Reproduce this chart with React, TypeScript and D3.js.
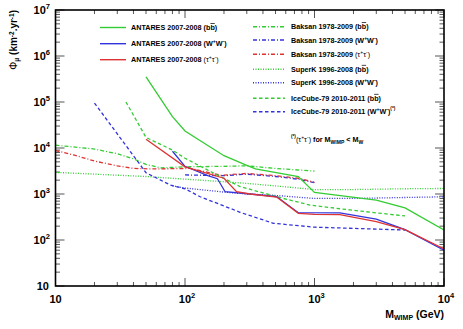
import React from "react";
import * as d3 from "d3";

const W = 463, H = 329;
const FONT = "'Liberation Sans', Arial, Helvetica, sans-serif";

// ---- data ----
const antaresBBMass = [50, 80, 100, 200, 300, 350, 750, 1000, 3000, 5000, 10000];
const antaresBBFlux = [3.5e5, 4.8e4, 2.35e4, 6.8e3, 4.2e3, 3.5e3, 2.4e3, 1.08e3, 740, 500, 165];

const antaresWWMass = [80, 100, 150, 178, 204, 318, 510, 750, 1570, 3000, 5000, 10000];
const antaresWWFlux = [8.5e3, 4.0e3, 2.5e3, 2.15e3, 1.12e3, 1.0e3, 880, 392, 390, 285, 168, 60];

const antaresTTMass = [50, 100, 200, 250, 318, 510, 750, 1000, 1570, 3000, 5000, 10000];
const antaresTTFlux = [1.55e4, 3.9e3, 2.2e3, 1.12e3, 1.0e3, 860, 380, 360, 355, 250, 168, 64];

const baksanBBMass = [10, 20, 30, 40, 50, 65, 100, 200, 300, 500, 1000];
const baksanBBFlux = [1.15e4, 9.5e3, 7.5e3, 5.8e3, 4.4e3, 3.7e3, 3.9e3, 4.0e3, 4.1e3, 3.6e3, 3.15e3];

const baksanWWMass = [100, 200, 300, 500, 750, 1000];
const baksanWWFlux = [2.6e3, 2.5e3, 2.7e3, 2.4e3, 2.1e3, 1.76e3];

const baksanTTMass = [10, 14, 20, 30, 40, 55, 110, 190, 300, 500, 750, 1000];
const baksanTTFlux = [8.8e3, 7.0e3, 5.2e3, 4.1e3, 3.6e3, 3.5e3, 3.6e3, 2.55e3, 2.8e3, 2.5e3, 2.2e3, 1.8e3];

const superkBBMass = [10, 20, 50, 100, 200, 300, 500, 1000, 2000, 5000, 10000];
const superkBBFlux = [2.95e3, 2.7e3, 2.4e3, 2.1e3, 1.85e3, 1.7e3, 1.5e3, 1.25e3, 1.25e3, 1.3e3, 1.32e3];

const superkWWMass = [80, 100, 200, 300, 500, 1000, 2000, 5000, 10000];
const superkWWFlux = [1.5e3, 1.35e3, 1.1e3, 1.0e3, 930, 800, 800, 840, 870];

const icecubeBBMass = [35, 50, 80, 100, 150, 266, 575, 923, 1880, 5000];
const icecubeBBFlux = [1.0e5, 1.7e4, 9e3, 6e3, 3.3e3, 1.45e3, 800, 575, 450, 333];

const icecubeWWMass = [20, 50, 77, 100, 131, 222, 266, 481, 1000, 1880, 5000];
const icecubeWWFlux = [9.5e4, 2.9e3, 1.57e3, 1.3e3, 870, 490, 400, 231, 190, 180, 165];

const xTickValues = [10, 100, 1000, 10000];
const xTickExp = ["", "2", "3", "4"];
const yTickValues = [10, 100, 1000, 1e4, 1e5, 1e6, 1e7];
const yTickExp = ["", "2", "3", "4", "5", "6", "7"];

const GREEN = "#33cc33";
const BLUE = "#3333dd";
const RED = "#dd3333";
const SOLID = "none";
const DASH = "3.5,2.5";
const DOT = "1,1.5";
const DASHDOT = "4,2,1,2";

type Series = { mass: number[]; flux: number[]; color: string; dash: string };

const plotSeries: Series[] = [
  { mass: superkBBMass, flux: superkBBFlux, color: GREEN, dash: DOT },
  { mass: superkWWMass, flux: superkWWFlux, color: BLUE, dash: DOT },
  { mass: baksanBBMass, flux: baksanBBFlux, color: GREEN, dash: DASHDOT },
  { mass: baksanWWMass, flux: baksanWWFlux, color: BLUE, dash: DASHDOT },
  { mass: baksanTTMass, flux: baksanTTFlux, color: RED, dash: DASHDOT },
  { mass: icecubeBBMass, flux: icecubeBBFlux, color: GREEN, dash: DASH },
  { mass: icecubeWWMass, flux: icecubeWWFlux, color: BLUE, dash: DASH },
  { mass: antaresBBMass, flux: antaresBBFlux, color: GREEN, dash: SOLID },
  { mass: antaresWWMass, flux: antaresWWFlux, color: BLUE, dash: SOLID },
  { mass: antaresTTMass, flux: antaresTTFlux, color: RED, dash: SOLID },
];

const left = 55.5, right = 444, top = 10, bottom = 286;

const BB = () => (
  <tspan>
    (b<tspan style={{ textDecoration: "overline" }}>b</tspan>)
  </tspan>
);

export default function App() {
  const x = d3.scaleLog().domain([10, 1e4]).range([left, right]);
  const y = d3.scaleLog().domain([10, 1e7]).range([bottom, top]);
  const line = d3
    .line<[number, number]>()
    .x((d) => x(d[0]))
    .y((d) => y(d[1]));

  const xMinor: number[] = [];
  for (let e = 1; e < 4; e++) for (let k = 2; k <= 9; k++) xMinor.push(k * Math.pow(10, e));
  const yMinor: number[] = [];
  for (let e = 1; e < 7; e++) for (let k = 2; k <= 9; k++) yMinor.push(k * Math.pow(10, e));

  const tickColor = "#555";

  const legendLeft = [
    { label: "ANTARES 2007-2008 ", sfx: "bb", color: GREEN, dash: SOLID, y: 27.5 },
    { label: "ANTARES 2007-2008 ", sfx: "ww", color: BLUE, dash: SOLID, y: 43.7 },
    { label: "ANTARES 2007-2008 ", sfx: "tt", color: RED, dash: SOLID, y: 59.7 },
  ];
  const legendRight = [
    { label: "Baksan 1978-2009 ", sfx: "bb", color: GREEN, dash: DASHDOT, y: 26.7 },
    { label: "Baksan 1978-2009 ", sfx: "ww", color: BLUE, dash: DASHDOT, y: 40 },
    { label: "Baksan 1978-2009 ", sfx: "tt", color: RED, dash: DASHDOT, y: 54.3 },
    { label: "SuperK 1996-2008 ", sfx: "bb", color: GREEN, dash: DOT, y: 69.3 },
    { label: "SuperK 1996-2008 ", sfx: "ww", color: BLUE, dash: DOT, y: 82.7 },
    { label: "IceCube-79 2010-2011 ", sfx: "bb", color: GREEN, dash: DASH, y: 98.3 },
    { label: "IceCube-79 2010-2011 ", sfx: "wwstar", color: BLUE, dash: DASH, y: 111.7 },
  ];

  const suffix = (s: string) => {
    if (s === "bb") return <BB />;
    if (s === "ww")
      return (
        <tspan>
          (W<tspan fontSize="0.7em" dy="-3">+</tspan>
          <tspan dy="3">W</tspan>
          <tspan fontSize="0.7em" dy="-3">-</tspan>
          <tspan dy="3">)</tspan>
        </tspan>
      );
    if (s === "tt")
      return (
        <tspan fontWeight="normal">
          (τ<tspan fontSize="0.7em" dy="-3">+</tspan>
          <tspan dy="3">τ</tspan>
          <tspan fontSize="0.7em" dy="-3">-</tspan>
          <tspan dy="3">)</tspan>
        </tspan>
      );
    return (
      <tspan>
        (W<tspan fontSize="0.7em" dy="-3">+</tspan>
        <tspan dy="3">W</tspan>
        <tspan fontSize="0.7em" dy="-3">-</tspan>
        <tspan dy="3">)</tspan>
        <tspan fontSize="0.65em" dy="-4">(*)</tspan>
      </tspan>
    );
  };

  return (
    <svg
      width={W}
      height={H}
      style={{ position: "absolute", left: 0, top: 0, background: "#fff" }}
      fontFamily={FONT}
    >
      <rect x={0} y={0} width={W} height={H} fill="#fff" />
      <defs>
        <clipPath id="plot">
          <rect x={left} y={top} width={right - left} height={bottom - top} />
        </clipPath>
      </defs>

      {/* ticks */}
      <g stroke={tickColor} strokeWidth={1}>
        {xTickValues.map((v) => (
          <g key={"xm" + v}>
            <line x1={x(v)} x2={x(v)} y1={bottom} y2={bottom - 8} />
            <line x1={x(v)} x2={x(v)} y1={top} y2={top + 8} />
          </g>
        ))}
        {xMinor.map((v) => (
          <g key={"xn" + v}>
            <line x1={x(v)} x2={x(v)} y1={bottom} y2={bottom - 4} />
            <line x1={x(v)} x2={x(v)} y1={top} y2={top + 4} />
          </g>
        ))}
        {yTickValues.map((v) => (
          <g key={"ym" + v}>
            <line x1={left} x2={left + 9} y1={y(v)} y2={y(v)} />
            <line x1={right} x2={right - 9} y1={y(v)} y2={y(v)} />
          </g>
        ))}
        {yMinor.map((v) => (
          <g key={"yn" + v}>
            <line x1={left} x2={left + 4.5} y1={y(v)} y2={y(v)} />
            <line x1={right} x2={right - 4.5} y1={y(v)} y2={y(v)} />
          </g>
        ))}
      </g>

      {/* series */}
      <g clipPath="url(#plot)" fill="none">
        {plotSeries.map((s, i) => (
          <path
            key={i}
            d={line(s.mass.map((m, j) => [m, s.flux[j]] as [number, number])) || ""}
            stroke={s.color}
            strokeWidth={1.3}
            strokeDasharray={s.dash === SOLID ? undefined : s.dash}
          />
        ))}
      </g>

      {/* frame */}
      <rect
        x={left}
        y={top}
        width={right - left}
        height={bottom - top}
        fill="none"
        stroke="#000"
        strokeWidth={1.6}
      />

      {/* tick labels */}
      <g fontSize={11} fontWeight="bold" fill="#000">
        {xTickValues.map((v, i) => (
          <text key={"xl" + v} x={x(v) + (xTickExp[i] ? 2 : 0)} y={303} textAnchor="middle">
            10
            {xTickExp[i] && (
              <tspan fontSize={7.5} dy={-5}>
                {xTickExp[i]}
              </tspan>
            )}
          </text>
        ))}
        {yTickValues.map((v, i) => (
          <text key={"yl" + v} x={yTickExp[i] ? 50 : 49} y={y(v) + 4} textAnchor="end">
            10
            {yTickExp[i] && (
              <tspan fontSize={7.5} dy={-5}>
                {yTickExp[i]}
              </tspan>
            )}
          </text>
        ))}
      </g>

      {/* axis titles */}
      <text x={444} y={318} textAnchor="end" fontSize={10.5} fontWeight="bold">
        M<tspan fontSize={7} dy={2}>WIMP</tspan>
        <tspan dy={-2}> (GeV)</tspan>
      </text>
      <text
        transform="translate(17,10) rotate(-90)"
        textAnchor="end"
        fontSize={10}
        fontWeight="bold"
      >
        <tspan fontWeight="normal">Φ</tspan>
        <tspan fontSize={6.5} dy={2}>μ</tspan>
        <tspan dy={-2}> (km</tspan>
        <tspan fontSize={6.5} dy={-3.5}>-2</tspan>
        <tspan dy={3.5}>.yr</tspan>
        <tspan fontSize={6.5} dy={-3.5}>-1</tspan>
        <tspan dy={3.5}>)</tspan>
      </text>

      {/* legend */}
      <g fontSize={7.2} fontWeight="bold">
        {legendLeft.map((l, i) => (
          <g key={"ll" + i}>
            <line
              x1={100}
              x2={126}
              y1={l.y}
              y2={l.y}
              stroke={l.color}
              strokeWidth={1.4}
            />
            <text x={131} y={l.y + 2.6}>
              {l.label}
              {suffix(l.sfx)}
            </text>
          </g>
        ))}
        {legendRight.map((l, i) => (
          <g key={"lr" + i}>
            <line
              x1={253}
              x2={285}
              y1={l.y}
              y2={l.y}
              stroke={l.color}
              strokeWidth={1.4}
              strokeDasharray={l.dash === SOLID ? undefined : l.dash}
            />
            <text x={291} y={l.y + 2.6}>
              {l.label}
              {suffix(l.sfx)}
            </text>
          </g>
        ))}
        <text x={291} y={142}>
          <tspan fontSize="0.65em" dy={-4}>(*)</tspan>
          <tspan dy={4} fontWeight="normal">(τ</tspan>
          <tspan fontSize="0.7em" dy={-3} fontWeight="normal">+</tspan>
          <tspan dy={3} fontWeight="normal">τ</tspan>
          <tspan fontSize="0.7em" dy={-3} fontWeight="normal">-</tspan>
          <tspan dy={3} fontWeight="normal">)</tspan>
          <tspan> for M</tspan>
          <tspan fontSize="0.7em" dy={2}>WIMP</tspan>
          <tspan dy={-2}> &lt; M</tspan>
          <tspan fontSize="0.7em" dy={2}>W</tspan>
        </text>
      </g>
    </svg>
  );
}
